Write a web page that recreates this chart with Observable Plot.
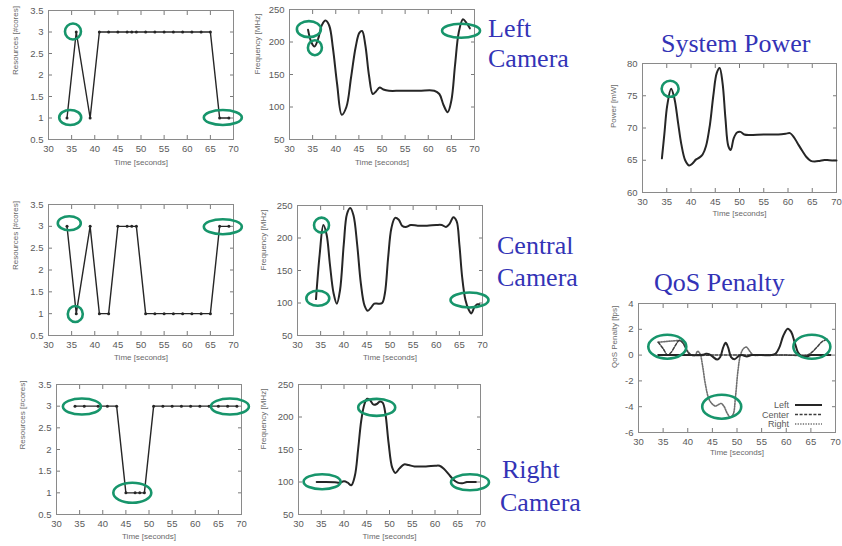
<!DOCTYPE html>
<html><head><meta charset="utf-8">
<script src="https://cdn.jsdelivr.net/npm/d3@7"></script>
<script src="https://cdn.jsdelivr.net/npm/@observablehq/plot@0.6"></script>
<style>
html,body{margin:0;padding:0;background:#fff;}
#root{position:relative;width:842px;height:546px;overflow:hidden;background:#fff;}
</style></head><body><div id="root"></div>
<script>
// ---------- data ----------
const xTicks = [30, 35, 40, 45, 50, 55, 60, 65, 70];
const resTicks = [0.5, 1, 1.5, 2, 2.5, 3, 3.5];
const freqTicks = [50, 100, 150, 200, 250];
const powerTicks = [60, 65, 70, 75, 80];
const qosTicks = [-6, -4, -2, 0, 2, 4];

const resTime = [34, 36, 39, 41, 43, 45, 47, 48, 49, 51, 53, 55, 57, 59, 61, 63, 65, 67, 69];
const leftRes = [1, 3, 1, 3, 3, 3, 3, 3, 3, 3, 3, 3, 3, 3, 3, 3, 3, 1, 1];
const centralRes = [3, 1, 3, 1, 1, 3, 3, 3, 3, 1, 1, 1, 1, 1, 1, 1, 1, 3, 3];
const rightRes = [3, 3, 3, 3, 3, 1, 1, 1, 1, 3, 3, 3, 3, 3, 3, 3, 3, 3, 3];

const leftFreqT = [34, 34.7, 35.4, 36.2, 37, 37.8, 38.6, 39.4, 40.3, 41.3, 42.3, 43.3, 44.3, 45.1, 45.7, 46.4, 47.2, 48, 48.7, 49.5, 50.3, 51.5, 54, 58, 61.3, 62.4, 63.3, 64.2, 65, 65.8, 66.6, 67.5, 68.2, 69];
const leftFreq = [219, 200, 193, 205, 226, 233, 225, 190, 135, 88, 100, 145, 192, 214, 217, 195, 148, 120, 124, 130, 127, 125, 125, 125, 125, 120, 103, 92, 110, 165, 215, 235, 230, 221];

const centralFreqT = [34, 34.8, 35.6, 36.3, 37, 37.8, 38.5, 39.2, 40, 40.7, 41.4, 42.1, 42.9, 43.7, 44.5, 45.2, 45.9, 46.6, 47.5, 48.3, 48.9, 49.6, 50.3, 51.1, 51.9, 52.6, 53.4, 54.5, 56, 58, 60, 61.2, 62.1, 62.9, 63.7, 64.4, 65, 65.6, 66.3, 67, 67.6, 68.2, 68.8, 69.3];
const centralFreq = [106, 175, 220, 205, 160, 115, 99, 120, 190, 237, 246, 235, 190, 130, 96, 88, 93, 99, 99, 100, 115, 170, 215, 231, 228, 219, 217, 220, 219, 219, 220, 220, 217, 222, 232, 226, 190, 140, 105, 90, 84, 93, 98, 98];

const rightFreqT = [34, 36, 38, 39, 40, 40.8, 41.6, 42.4, 43.1, 43.8, 44.5, 45.1, 45.7, 46.5, 47.2, 47.9, 48.5, 49.1, 49.8, 50.6, 51.3, 52.2, 53.2, 54.2, 55.5, 58, 60, 61, 62, 63, 64, 65, 66, 67, 68, 69];
const rightFreq = [100, 100, 99.5, 99, 101, 99, 95, 110, 150, 195, 220, 228, 226, 219, 220, 224, 222, 205, 160, 122, 114, 121, 127, 126, 124, 124, 125, 125, 120, 112, 104, 99, 98, 100, 100, 100];

const powerT = [34, 34.5, 35.1, 35.9, 36.6, 37.3, 38, 38.8, 39.6, 40.3, 41, 41.7, 42.4, 43.1, 43.9, 44.6, 45.3, 45.9, 46.5, 47.1, 47.7, 48.2, 48.8, 49.5, 50.2, 51, 52, 55, 58, 59.5, 60.4, 61.2, 62, 62.9, 63.8, 64.7, 65.5, 66.5, 67.5, 68.5, 70];
const power = [65.3, 69, 73.5, 76.1, 74.5, 71, 67.5, 65, 64.2, 64.5, 65.1, 65.4, 65.9, 67.2, 70.5, 75, 78.5, 79.3, 77, 71.5, 67.2, 66.6, 68.4, 69.3, 69.4, 69, 68.9, 69, 69, 69.1, 69.2, 68.6, 67.6, 66.5, 65.5, 64.9, 64.8, 64.9, 65.05, 65, 64.95];

const qosLeftT = [34, 36, 38, 40, 42, 43, 43.7, 44.3, 45, 46, 46.6, 47.2, 47.7, 48.2, 48.8, 49.5, 50.4, 51, 52, 53, 55, 57, 57.8, 58.6, 59.4, 60.3, 61, 61.7, 62.4, 63.2, 64, 65, 67, 69];
const qosLeft = [0, 0, 0, 0, 0, 0.02, 0.1, 0.08, -0.1, -0.35, -0.15, 0.6, 0.95, 0.6, -0.15, -0.32, -0.05, 0, -0.1, 0, 0, 0, 0.1, 0.6, 1.5, 2.05, 1.8, 1.0, 0.2, -0.1, -0.15, 0, 0, 0];
const qosCenterT = [34, 35, 35.9, 36.6, 37.5, 38.3, 39, 39.6, 40.2, 41, 45, 50, 55, 60, 64.3, 65.3, 66.3, 67.3, 68.5];
const qosCenter = [1.0, 0.5, 0.02, 0.2, 0.75, 1.15, 0.95, 0.5, 0.15, 0, 0, 0, 0, 0, 0, 0.25, 0.65, 1.05, 1.25];
const qosRightT = [34, 35.5, 37, 38.5, 39.3, 40, 40.7, 41.5, 42, 42.5, 43, 43.6, 44.3, 45, 45.6, 46.2, 46.8, 47.4, 48, 48.6, 49.2, 49.7, 50.2, 50.7, 51.3, 51.9, 52.6, 53.3, 55, 60, 65, 69];
const qosRight = [1.0, 1.05, 1.1, 1.1, 0.8, 0.3, 0, 0, 0.3, 0.1, -0.8, -2.3, -3.4, -3.8, -3.95, -3.85, -3.75, -4.0, -4.5, -4.8, -4.6, -3.2, -1.2, 0, 0.5, 0.62, 0.3, 0, 0, 0, 0, 0];
const qosNames = ["Left", "Center", "Right"];

// highlighted points (data coords: time, value)
const hlLeftRes = [[34.8, 1.0], [35.4, 3.0], [67.8, 1.0]];
const hlLeftFreq = [[34.3, 219], [35.6, 190.5], [67.2, 216.6]];
const hlCentralRes = [[34.6, 3.06], [35.9, 0.98], [67.8, 2.98]];
const hlCentralFreq = [[35.3, 219], [34.5, 106.5], [67.3, 103.8]];
const hlRightRes = [[35.6, 2.98], [46.5, 0.99], [67.6, 2.98]];
const hlRightFreq = [[35.3, 99.7], [47.3, 214], [67.8, 98.8]];
const hlPower = [[35.8, 76.0]];
const hlQos = [[35.95, 0.61], [47.0, -4.04], [65.3, 0.61]];

// ---------- drawing ----------
const root = document.getElementById("root");
const GREEN = "#17956b";
const INK = "#262626";
const fmt = d => String(d);

function makePanel({frame, yDomain, yTicks, yLabel, yLabOff, xLabOff, marks, hl, sizes, legend}) {
  const {l, r, t, b} = frame;
  const mL = 50, mR = 8, mT = 6, mB = 34;
  const svg = Plot.plot({
    width: r - l + mL + mR, height: b - t + mT + mB,
    marginLeft: mL, marginRight: mR, marginTop: mT, marginBottom: mB,
    style: {background: "transparent", overflow: "visible", fontFamily: "'Liberation Sans', Arial, sans-serif", fontSize: "9.5px", color: "#5a5a5a"},
    x: {domain: [30, 70]},
    y: {domain: yDomain},
    marks: [
      Plot.axisX(xTicks, {anchor: "bottom", tickSize: -4, tickPadding: 10, tickFormat: fmt, stroke: "#7a7a7a", fill: "#5a5a5a", label: null}),
      Plot.axisX(xTicks, {anchor: "top", tickSize: -4, tickFormat: () => "", stroke: "#7a7a7a", label: null}),
      Plot.axisY(yTicks, {anchor: "left", tickSize: -4, tickPadding: 9, tickFormat: fmt, stroke: "#7a7a7a", fill: "#5a5a5a", label: null}),
      Plot.axisY(yTicks, {anchor: "right", tickSize: -4, tickFormat: () => "", stroke: "#7a7a7a", label: null}),
      Plot.frame({stroke: "#8a8a8a"}),
      Plot.text([yLabel], {frameAnchor: "left", rotate: -90, dx: -yLabOff, fontSize: 8, fill: "#6a6a6a"}),
      Plot.text(["Time [seconds]"], {frameAnchor: "bottom", dy: xLabOff, fontSize: 8, fill: "#6a6a6a"}),
      ...marks
    ]
  });
  svg.style.position = "absolute";
  svg.style.left = (l - mL) + "px";
  svg.style.top = (t - mT) + "px";
  const sx = svg.scale("x"), sy = svg.scale("y");
  const g = d3.select(svg).append("g");
  hl.forEach(([hx, hy], i) => {
    g.append("ellipse")
      .attr("cx", sx.apply(hx)).attr("cy", sy.apply(hy))
      .attr("rx", sizes[i][0]).attr("ry", sizes[i][1])
      .attr("fill", "none").attr("stroke", GREEN).attr("stroke-width", 2.6);
  });
  if (legend) {
    const lg = d3.select(svg).append("g").attr("font-size", 9).attr("fill", "#5a5a5a");
    const fr = mL + (r - l), fb = mT + (b - t);
    legend.forEach((s, i) => {
      const y = fb - 27 + i * 9.5;
      lg.append("text").attr("x", fr - 46).attr("y", y).attr("dy", "0.35em").attr("text-anchor", "end").text(s.name);
      lg.append("line").attr("x1", fr - 40).attr("x2", fr - 13).attr("y1", y).attr("y2", y)
        .attr("stroke", s.stroke).attr("stroke-width", s.width).attr("stroke-dasharray", s.dash);
    });
  }
  root.appendChild(svg);
}

function resMarks(V) {
  return [
    Plot.line(resTime, {x: resTime, y: V, stroke: INK, strokeWidth: 1.4}),
    Plot.dot(resTime, {x: resTime, y: V, r: 1.5, fill: INK, stroke: null})
  ];
}
function smooth(T, V, opts = {}) {
  return Plot.line(T, {x: T, y: V, curve: "catmull-rom", stroke: INK, strokeWidth: 2, ...opts});
}

makePanel({frame: {l: 48, r: 233, t: 10, b: 139}, yDomain: [0.5, 3.5], yTicks: resTicks, yLabel: "Resources [#cores]", yLabOff: 33, xLabOff: 25,
  marks: resMarks(leftRes), hl: hlLeftRes, sizes: [[11, 7.5], [8, 8], [19, 7.5]]});
makePanel({frame: {l: 289, r: 474, t: 9, b: 139}, yDomain: [50, 250], yTicks: freqTicks, yLabel: "Frequency [MHz]", yLabOff: 32, xLabOff: 25,
  marks: [smooth(leftFreqT, leftFreq)], hl: hlLeftFreq, sizes: [[12, 8], [7, 7.5], [19, 7]]});
makePanel({frame: {l: 48, r: 233, t: 204, b: 335}, yDomain: [0.5, 3.5], yTicks: resTicks, yLabel: "Resources [#cores]", yLabOff: 33, xLabOff: 24,
  marks: resMarks(centralRes), hl: hlCentralRes, sizes: [[11.5, 7], [7.5, 8], [19, 7.5]]});
makePanel({frame: {l: 297, r: 482, t: 205, b: 335}, yDomain: [50, 250], yTicks: freqTicks, yLabel: "Frequency [MHz]", yLabOff: 34, xLabOff: 24,
  marks: [smooth(centralFreqT, centralFreq)], hl: hlCentralFreq, sizes: [[7.5, 7.5], [11.5, 7.5], [19, 7.5]]});
makePanel({frame: {l: 56, r: 241, t: 384, b: 514}, yDomain: [0.5, 3.5], yTicks: resTicks, yLabel: "Resources [#cores]", yLabOff: 34, xLabOff: 24,
  marks: resMarks(rightRes), hl: hlRightRes, sizes: [[19, 8], [19, 10], [19, 8]]});
makePanel({frame: {l: 298, r: 480, t: 384, b: 514}, yDomain: [50, 250], yTicks: freqTicks, yLabel: "Frequency [MHz]", yLabOff: 35, xLabOff: 24,
  marks: [smooth(rightFreqT, rightFreq)], hl: hlRightFreq, sizes: [[18.5, 7.5], [18.5, 8.5], [19, 8]]});
makePanel({frame: {l: 642, r: 836, t: 63, b: 192}, yDomain: [60, 80], yTicks: powerTicks, yLabel: "Power [mW]", yLabOff: 29, xLabOff: 23,
  marks: [smooth(powerT, power)], hl: hlPower, sizes: [[8.5, 8]]});
makePanel({frame: {l: 638, r: 835, t: 303, b: 432}, yDomain: [-6, 4], yTicks: qosTicks, yLabel: "QoS Penalty [fps]", yLabOff: 24, xLabOff: 22,
  marks: [
    smooth(qosRightT, qosRight, {stroke: "#6e6e6e", strokeWidth: 1.6, strokeDasharray: "1.3,1.3"}),
    smooth(qosCenterT, qosCenter, {stroke: "#3c3c3c", strokeWidth: 1.5, strokeDasharray: "3,1.6"}),
    smooth(qosLeftT, qosLeft, {stroke: INK, strokeWidth: 2})
  ],
  hl: hlQos, sizes: [[19, 12], [19.5, 12], [18.5, 12]],
  legend: [
    {name: qosNames[0], stroke: INK, width: 2, dash: null},
    {name: qosNames[1], stroke: "#3c3c3c", width: 1.5, dash: "3,1.6"},
    {name: qosNames[2], stroke: "#6e6e6e", width: 1.6, dash: "1.3,1.3"}
  ]});

// titles overlay
const titles = [
  ["Left", 488, 37], ["Camera", 488, 67],
  ["Central", 497, 254], ["Camera", 497, 286],
  ["Right", 502, 478], ["Camera", 500, 511],
  ["System Power", 661, 52], ["QoS Penalty", 654, 291]
];
const ov = d3.select(root).append("svg").attr("width", 842).attr("height", 546)
  .style("position", "absolute").style("left", "0px").style("top", "0px").style("pointer-events", "none");
ov.selectAll("text").data(titles).join("text")
  .attr("x", d => d[1]).attr("y", d => d[2]).text(d => d[0])
  .attr("font-family", "'Liberation Serif', 'Times New Roman', serif").attr("font-size", 26).attr("fill", "#3333b6");
</script></body></html>
